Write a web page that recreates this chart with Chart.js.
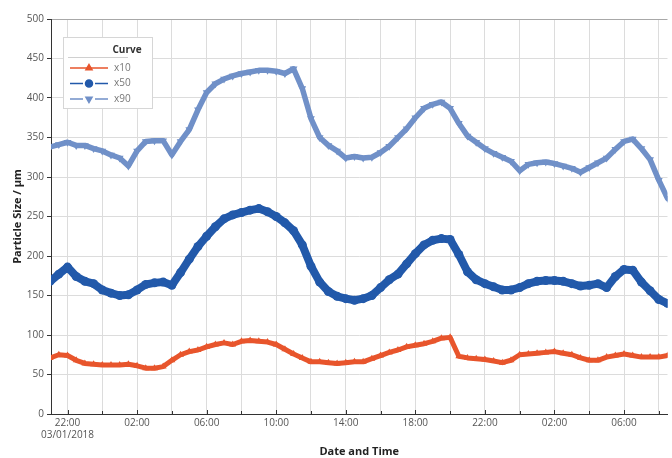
<!DOCTYPE html>
<html>
<head>
<meta charset="utf-8">
<script src="https://cdn.jsdelivr.net/npm/chart.js@4.4.0/dist/chart.umd.min.js"></script>
<style>
    html, body { margin: 0; padding: 0; background: #fff; }
    #chart { display: block; }
</style>
</head>
<body>
<canvas id="chart" width="672" height="458"></canvas>
<script>
(function () {
    "use strict";

    // hours counted from 00:00 on 03/01/2018
    var hours = [
        21, 21.5, 22, 22.5, 23, 23.5, 24, 24.5, 25, 25.5,
        26, 26.5, 27, 27.5, 28, 28.5, 29, 29.5, 30, 30.5,
        31, 31.5, 32, 32.5, 33, 33.5, 34, 34.5, 35, 35.5,
        36, 36.5, 37, 37.5, 38, 38.5, 39, 39.5, 40, 40.5,
        41, 41.5, 42, 42.5, 43, 43.5, 44, 44.5, 45, 45.5,
        46, 46.5, 47, 47.5, 48, 48.5, 49, 49.5, 50, 50.5,
        51, 51.5, 52, 52.5, 53, 53.5, 54, 54.5, 55, 55.5,
        56, 56.5
    ];

    var x10 = [
        71, 75, 74, 68, 64, 63, 62, 62, 62, 63,
        61, 58, 58, 60, 68, 75, 79, 81, 85, 88,
        90, 88, 92, 93, 92, 91, 88, 82, 76, 71,
        66, 66, 65, 64, 65, 66, 66, 70, 74, 78,
        81, 85, 87, 89, 92, 96, 97, 73, 71, 70,
        69, 67, 65, 68, 75, 76, 77, 78, 79, 77,
        75, 71, 68, 68, 72, 74, 76, 74, 72, 72,
        72, 74
    ];

    var x50 = [
        168, 177, 186, 174, 168, 165, 157, 153, 150, 151,
        157, 164, 166, 167, 163, 179, 196, 212, 225, 237,
        247, 252, 255, 258, 260, 256, 250, 242, 232, 214,
        187, 167, 155, 149, 146, 144, 146, 150, 160, 170,
        177, 190, 203, 214, 220, 222, 221, 202, 180, 170,
        165, 161, 157, 157, 160, 165, 168, 169, 169, 168,
        165, 162, 163, 165, 160, 174, 183, 182, 167, 156,
        145, 140
    ];

    var x90 = [
        338, 341, 344, 340, 340, 336, 333, 328, 324, 314,
        333, 345, 346, 346, 328, 345, 360, 385, 407, 418,
        424, 428, 431, 433, 435, 435, 434, 431, 437, 412,
        374, 350, 340, 333, 324, 326, 324, 325, 331, 339,
        350, 361, 375, 387, 392, 395, 387, 368, 352, 344,
        336, 330, 325, 320, 308, 316, 318, 319, 317, 314,
        311, 306, 312, 318, 324, 335, 345, 348, 336, 322,
        296, 273
    ];

    var tickHours = [22, 24, 26, 28, 30, 32, 34, 36, 38, 40, 42, 44, 46, 48, 50, 52, 54, 56];
    var tickLabels = ['22:00', '', '02:00', '', '06:00', '', '10:00', '', '14:00', '',
                      '18:00', '', '22:00', '', '02:00', '', '06:00', ''];
    var startDate = '03/01/2018';
    var seriesNames = ['x10', 'x50', 'x90'];

    var FONT = '"Open Sans", "Liberation Sans", sans-serif';

    function points(ys) {
        return ys.map(function (y, i) { return {x: hours[i], y: y}; });
    }

    // Legend box drawn inside the plot
    var curveLegend = {
        id: 'curveLegend',
        afterDraw: function (chart) {
            var ctx = chart.ctx;
            var bx = 63, by = 37, bw = 89, bh = 71;
            ctx.save();
            ctx.fillStyle = '#fff';
            ctx.strokeStyle = '#d6d6d6';
            ctx.lineWidth = 1;
            ctx.fillRect(bx, by, bw, bh);
            ctx.strokeRect(bx + 0.5, by + 0.5, bw, bh);

            ctx.font = 'bold 10px ' + FONT;
            ctx.fillStyle = '#333';
            ctx.textAlign = 'center';
            ctx.textBaseline = 'middle';
            ctx.fillText('Curve', 127, 50);
            ctx.strokeStyle = '#d0d0d0';
            ctx.beginPath();
            ctx.moveTo(68, 57.5);
            ctx.lineTo(128, 57.5);
            ctx.stroke();

            chart.data.datasets.forEach(function (ds, i) {
                var y = 68 + i * 15.5;
                var gap = i === 0 ? 0 : 6;
                ctx.strokeStyle = ds.borderColor;
                ctx.lineWidth = 1.5;
                ctx.beginPath();
                ctx.moveTo(70, y);
                ctx.lineTo(89 - gap, y);
                ctx.moveTo(89 + gap, y);
                ctx.lineTo(108, y);
                ctx.stroke();
                ctx.fillStyle = ds.borderColor;
                Chart.helpers.drawPoint(ctx, {
                    pointStyle: ds.pointStyle,
                    rotation: ds.pointRotation || 0,
                    radius: 3.5,
                    borderWidth: 1
                }, 89, y);
                ctx.font = '10px ' + FONT;
                ctx.fillStyle = '#777';
                ctx.textAlign = 'left';
                ctx.fillText(ds.label, 114, y);
            });
            ctx.restore();
        }
    };

    // Short tick marks pointing into the plot on the time axis
    var innerTicks = {
        id: 'innerTicks',
        afterDatasetsDraw: function (chart) {
            var ctx = chart.ctx;
            var xs = chart.scales.x;
            var bottom = chart.chartArea.bottom;
            ctx.save();
            ctx.strokeStyle = '#333';
            ctx.lineWidth = 1;
            tickHours.forEach(function (h, i) {
                var px = Math.round(xs.getPixelForValue(h)) + 0.5;
                ctx.beginPath();
                ctx.moveTo(px, bottom);
                ctx.lineTo(px, bottom - (tickLabels[i] ? 4 : 3));
                ctx.stroke();
            });
            ctx.restore();
        }
    };

    var ctx = document.getElementById('chart').getContext('2d');
    new Chart(ctx, {
        type: 'line',
        data: {
            datasets: [{
                label: seriesNames[0],
                data: points(x10),
                borderColor: '#e8552c',
                backgroundColor: '#e8552c',
                borderWidth: 5,
                pointStyle: 'triangle',
                pointRadius: 4,
                pointBorderWidth: 0,
                tension: 0
            }, {
                label: seriesNames[1],
                data: points(x50),
                borderColor: '#2259aa',
                backgroundColor: '#2259aa',
                borderWidth: 8,
                pointStyle: 'circle',
                pointRadius: 4.5,
                pointBorderWidth: 0,
                tension: 0
            }, {
                label: seriesNames[2],
                data: points(x90),
                borderColor: '#7090c8',
                backgroundColor: '#7090c8',
                borderWidth: 5.5,
                pointStyle: 'triangle',
                pointRotation: 180,
                pointRadius: 4.5,
                pointBorderWidth: 0,
                tension: 0
            }]
        },
        options: {
            responsive: false,
            animation: false,
            layout: {padding: {top: 19, right: 0, bottom: 0, left: 0}},
            plugins: {
                legend: {display: false},
                tooltip: {enabled: false}
            },
            elements: {line: {borderJoinStyle: 'round', borderCapStyle: 'round'}},
            scales: {
                x: {
                    type: 'linear',
                    min: 21.05,
                    max: 56.5,
                    afterBuildTicks: function (axis) {
                        axis.ticks = tickHours.map(function (h) { return {value: h}; });
                    },
                    afterFit: function (axis) {
                        axis.height = 44;
                        axis.paddingLeft = 0;
                        axis.paddingRight = 0;
                    },
                    ticks: {
                        autoSkip: false,
                        maxRotation: 0,
                        padding: 3,
                        color: '#555',
                        font: {family: FONT, size: 10},
                        callback: function (value) {
                            var i = tickHours.indexOf(value);
                            var label = i >= 0 ? tickLabels[i] : '';
                            if (i === 0) return [label, startDate];
                            return label;
                        }
                    },
                    grid: {color: '#dcdcdc', lineWidth: 1, tickLength: 0},
                    border: {display: true, color: '#333', width: 1},
                    title: {
                        display: true,
                        text: 'Date and Time',
                        color: '#222',
                        font: {family: FONT, size: 11, weight: 'bold'},
                        padding: {top: 0, bottom: 0}
                    }
                },
                y: {
                    min: 0,
                    max: 500,
                    afterFit: function (axis) { axis.width = 51; },
                    ticks: {
                        stepSize: 50,
                        padding: 3,
                        color: '#555',
                        font: {family: FONT, size: 10}
                    },
                    grid: {
                        color: function (c) { return c.tick && c.tick.value === 500 ? '#a8a8a8' : '#dcdcdc'; },
                        lineWidth: 1,
                        tickLength: 4,
                        tickColor: '#333'
                    },
                    border: {display: true, color: '#333', width: 1},
                    title: {
                        display: true,
                        text: 'Particle Size / µm',
                        color: '#222',
                        font: {family: FONT, size: 11, weight: 'bold'},
                        padding: {top: 11, bottom: 0}
                    }
                }
            }
        },
        plugins: [innerTicks, curveLegend]
    });
})();
</script>
</body>
</html>
